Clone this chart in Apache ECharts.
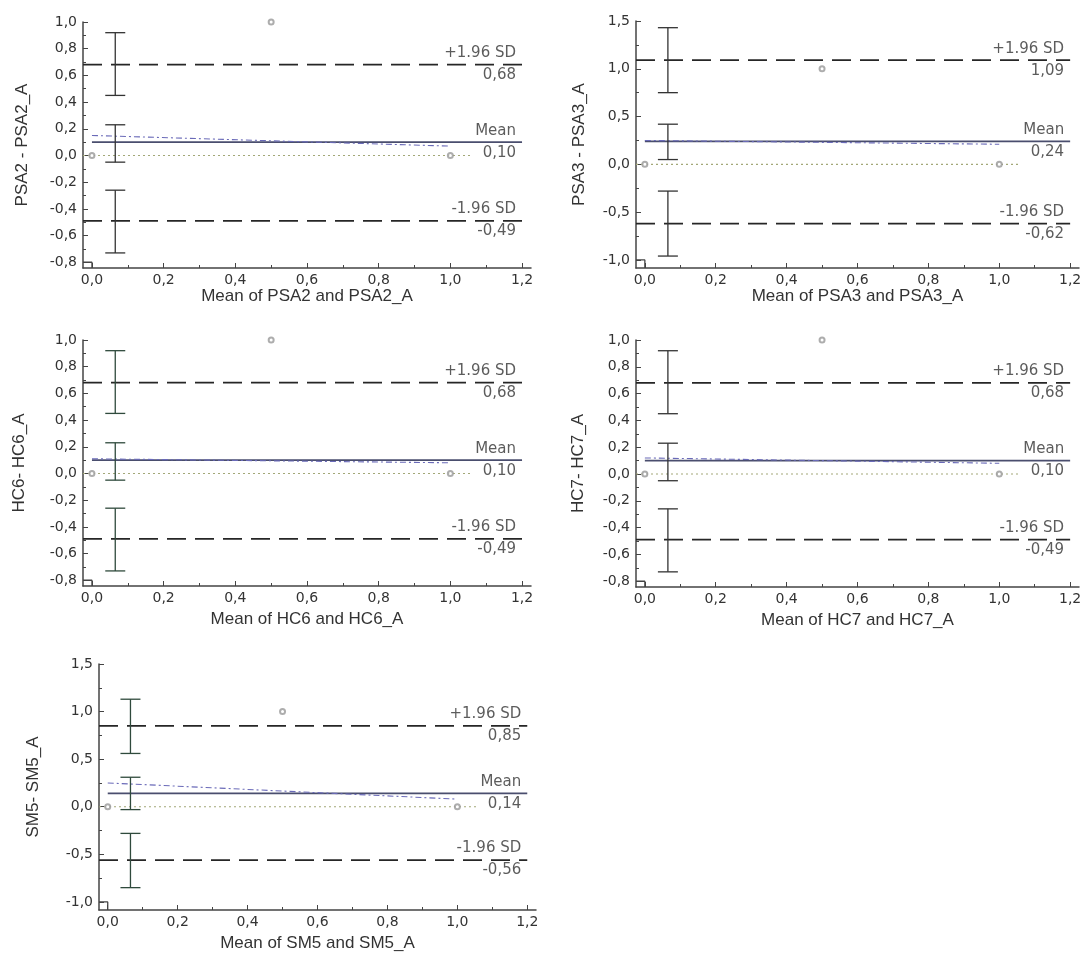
<!DOCTYPE html>
<html>
<head>
<meta charset="utf-8">
<script src="https://cdn.jsdelivr.net/npm/echarts@6/dist/echarts.min.js"></script>
<style>
html,body{margin:0;padding:0;background:#fff;}
#chart{width:1087px;height:956px;}
</style>
</head>
<body>
<div id="chart"></div>
<script>
// ---------------- data ----------------
const yTitles = ['PSA2 - PSA2_A', 'PSA3 - PSA3_A', 'HC6- HC6_A', 'HC7- HC7_A', 'SM5- SM5_A'];
const xTitles = ['Mean of PSA2 and PSA2_A', 'Mean of PSA3 and PSA3_A', 'Mean of HC6 and HC6_A', 'Mean of HC7 and HC7_A', 'Mean of SM5 and SM5_A'];
const meanDiff = [0.10, 0.24, 0.10, 0.10, 0.14];
const upperLoA = [0.68, 1.09, 0.68, 0.68, 0.85];
const lowerLoA = [-0.49, -0.62, -0.49, -0.49, -0.56];
const ciUpper = [[0.45, 0.92], [0.75, 1.43], [0.45, 0.92], [0.45, 0.92], [0.56, 1.13]];
const ciMean  = [[-0.05, 0.23], [0.05, 0.42], [-0.05, 0.23], [-0.05, 0.23], [-0.03, 0.31]];
const ciLower = [[-0.73, -0.26], [-0.96, -0.28], [-0.73, -0.26], [-0.73, -0.26], [-0.85, -0.28]];
const ciX = 0.065;
const regStart = [0.15, 0.25, 0.11, 0.12, 0.25];
const regEnd   = [0.07, 0.21, 0.08, 0.08, 0.08];
const regX = [0, 1.0];
const pointX = [0, 1.0, 0.5];
const pointY = [[0, 0, 1.0], [0, 0, 1.0], [0, 0, 1.0], [0, 0, 1.0], [0, 0, 1.0]];
const zeroLineEnd = 1.06;
const xTicks = [0, 0.2, 0.4, 0.6, 0.8, 1.0, 1.2];
const xMinorTicks = [0.1, 0.3, 0.5, 0.7, 0.9, 1.1];
const yTicksA = [-0.8, -0.6, -0.4, -0.2, 0, 0.2, 0.4, 0.6, 0.8, 1.0];
const yMinorA = [-0.7, -0.5, -0.3, -0.1, 0.1, 0.3, 0.5, 0.7, 0.9];
const yTicksB = [-1.0, -0.5, 0, 0.5, 1.0, 1.5];
const yMinorB = [-0.75, -0.25, 0.25, 0.75, 1.25];
const yScaleKind = ['A', 'B', 'A', 'A', 'B'];

// ---------------- layout ----------------
const xMin = -0.025, xMax = 1.225;
const yRange = { A: [-0.843, 1.0], B: [-1.085, 1.5] };
const grids = [
  { left: 83,  top: 22,  width: 448, height: 246 },
  { left: 636, top: 21,  width: 443, height: 247 },
  { left: 83,  top: 340, width: 448, height: 246 },
  { left: 636, top: 340, width: 443, height: 247 },
  { left: 99,  top: 664, width: 437, height: 246 }
];
const yNameGap = [52, 48, 55, 49, 57];
const xNameGap = [20, 20, 25, 25, 25];
const ciColor = ['#333', '#333', '#2f4a3c', '#333', '#2f4a3c'];

const fmt1 = v => (Math.round(v * 10) / 10).toFixed(1).replace('.', ',');
const fmt2 = v => v.toFixed(2).replace('.', ',');
const axisCol = '#444';
const textCol = '#333';
const tickFont = 'DejaVu Sans, sans-serif';
const titleFont = 'Liberation Sans, Arial, sans-serif';

const xAxes = [], yAxes = [], series = [];
grids.forEach((g, i) => {
  const kind = yScaleKind[i];
  const yt = kind === 'A' ? yTicksA : yTicksB;
  xAxes.push({
    gridIndex: i, type: 'value', min: xMin, max: xMax, position: 'bottom',
    name: xTitles[i], nameLocation: 'middle', nameGap: xNameGap[i],
    nameTextStyle: { fontFamily: titleFont, fontSize: 17, color: textCol },
    axisLine: { show: true, onZero: false, lineStyle: { color: axisCol, width: 1.5 } },
    axisTick: { show: true, inside: true, length: 5, customValues: xTicks, lineStyle: { color: axisCol } },
    axisLabel: { show: true, customValues: xTicks, formatter: fmt1, margin: 5, fontSize: 14, color: textCol, fontFamily: tickFont },
    splitLine: { show: false }
  });
  yAxes.push({
    gridIndex: i, type: 'value', min: yRange[kind][0], max: yRange[kind][1], position: 'left',
    name: yTitles[i], nameLocation: 'middle', nameGap: yNameGap[i], nameRotate: 90,
    nameTextStyle: { fontFamily: titleFont, fontSize: 17, color: textCol },
    axisLine: { show: true, onZero: false, lineStyle: { color: axisCol, width: 1.5 } },
    axisTick: { show: true, inside: true, length: 5, customValues: yt, lineStyle: { color: axisCol } },
    axisLabel: { show: true, customValues: yt, formatter: fmt1, margin: 6, fontSize: 14, color: textCol, fontFamily: tickFont },
    splitLine: { show: false }
  });
});
// minor tick axes
grids.forEach((g, i) => {
  const kind = yScaleKind[i];
  const ym = kind === 'A' ? yMinorA : yMinorB;
  xAxes.push({
    gridIndex: i, type: 'value', min: xMin, max: xMax, position: 'bottom',
    axisLine: { show: false, onZero: false },
    axisTick: { show: true, inside: true, length: 3, customValues: xMinorTicks, lineStyle: { color: axisCol } },
    axisLabel: { show: false }, splitLine: { show: false }
  });
  yAxes.push({
    gridIndex: i, type: 'value', min: yRange[kind][0], max: yRange[kind][1], position: 'left',
    axisLine: { show: false, onZero: false },
    axisTick: { show: true, inside: true, length: 3, customValues: ym, lineStyle: { color: axisCol } },
    axisLabel: { show: false }, splitLine: { show: false }
  });
});

const labelStyle = { fontFamily: tickFont, fontSize: 15, color: textCol };

grids.forEach((g, i) => {
  const kind = yScaleKind[i];
  const yt = kind === 'A' ? yTicksA : yTicksB;
  const ax = { xAxisIndex: i, yAxisIndex: i, silent: true, animation: false };
  // small axis-break step in the lower-left corner
  series.push(Object.assign({
    type: 'line', symbol: 'none', z: 8,
    data: [[xMin, yt[0]], [xTicks[0], yt[0]], [xTicks[0], yRange[kind][0]]],
    lineStyle: { color: axisCol, width: 1.3 }
  }, ax));
  // zero line (dotted)
  series.push(Object.assign({
    type: 'line', symbol: 'none', z: 2,
    data: [[xMin, 0], [zeroLineEnd, 0]],
    lineStyle: { color: '#a3a878', width: 1.2, type: [2, 3] }
  }, ax));
  // limits of agreement (long dash)
  [upperLoA[i], lowerLoA[i]].forEach(v => {
    series.push(Object.assign({
      type: 'line', symbol: 'none', z: 3,
      data: [[xMin, v], [xTicks[xTicks.length - 1], v]],
      lineStyle: { color: '#262626', width: 1.8, type: [19, 9] }
    }, ax));
  });
  // mean line
  series.push(Object.assign({
    type: 'line', symbol: 'none', z: 3,
    data: [[0, meanDiff[i]], [xTicks[xTicks.length - 1], meanDiff[i]]],
    lineStyle: { color: '#4a4e6e', width: 1.6 }
  }, ax));
  // regression line (dash-dot)
  series.push(Object.assign({
    type: 'line', symbol: 'none', z: 4,
    data: [[regX[0], regStart[i]], [regX[1], regEnd[i]]],
    lineStyle: { color: '#6a6ab8', width: 1.1, type: [6, 3, 2, 3] }
  }, ax));
  // observations
  series.push(Object.assign({
    type: 'scatter', symbol: 'emptyCircle', symbolSize: 5, z: 5,
    data: pointX.map((x, k) => [x, pointY[i][k]]),
    itemStyle: { color: '#999', borderColor: '#8a8a8a', borderWidth: 1 }
  }, ax));
  // confidence interval error bars
  series.push(Object.assign({
    type: 'custom', z: 6,
    data: [[ciX, ciUpper[i][0], ciUpper[i][1]], [ciX, ciMean[i][0], ciMean[i][1]], [ciX, ciLower[i][0], ciLower[i][1]]],
    renderItem: (params, api) => {
      const lo = api.coord([api.value(0), api.value(1)]);
      const hi = api.coord([api.value(0), api.value(2)]);
      const hw = 10;
      const st = { stroke: ciColor[i], lineWidth: 1.3 };
      return {
        type: 'group', children: [
          { type: 'line', shape: { x1: lo[0], y1: lo[1], x2: hi[0], y2: hi[1] }, style: st },
          { type: 'line', shape: { x1: lo[0] - hw, y1: lo[1], x2: lo[0] + hw, y2: lo[1] }, style: st },
          { type: 'line', shape: { x1: hi[0] - hw, y1: hi[1], x2: hi[0] + hw, y2: hi[1] }, style: st }
        ]
      };
    }
  }, ax));
  // line labels
  const names = ['+1.96 SD', 'Mean', '-1.96 SD'];
  const vals = [upperLoA[i], meanDiff[i], lowerLoA[i]];
  const xEnd = xTicks[xTicks.length - 1];
  series.push(Object.assign({
    type: 'scatter', symbolSize: 0, z: 7,
    data: vals.map((v, k) => ({
      value: [xEnd, v],
      label: { show: true, formatter: names[k], position: [-6, -4], align: 'right', verticalAlign: 'bottom' }
    })),
    label: labelStyle
  }, ax));
  series.push(Object.assign({
    type: 'scatter', symbolSize: 0, z: 7,
    data: vals.map(v => ({
      value: [xEnd, v],
      label: { show: true, formatter: fmt2(v), position: [-6, 3], align: 'right', verticalAlign: 'top' }
    })),
    label: labelStyle
  }, ax));
});

const chart = echarts.init(document.getElementById('chart'), null, { renderer: 'canvas' });
chart.setOption({
  animation: false,
  backgroundColor: '#fff',
  grid: grids.map(g => Object.assign({ containLabel: false }, g)),
  xAxis: xAxes,
  yAxis: yAxes,
  series: series
});
</script>
</body>
</html>
